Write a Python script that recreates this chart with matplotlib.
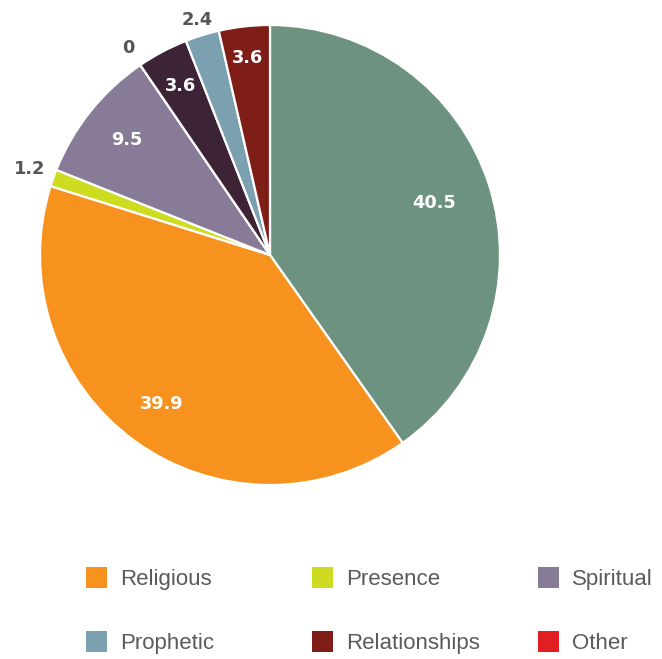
import matplotlib
matplotlib.use("Agg")
import matplotlib.pyplot as plt
from matplotlib.patches import Rectangle
import numpy as np

plt.rcParams['font.family'] = ['Liberation Sans', 'DejaVu Sans']

# slices clockwise from the top
values = [40.5, 39.9, 1.2, 9.5, 0, 3.6, 2.4, 3.6]
value_labels = ["40.5", "39.9", "1.2", "9.5", "0", "3.6", "2.4", "3.6"]
colors = ["#6E9280", "#F7921E", "#CDDC20", "#877B98", "#E01E24",
          "#3D2336", "#7BA0B0", "#7F1D17"]
label_inside = [True, True, False, True, False, True, False, True]
label_radius = [0.75, 0.8, 1.11, 0.8, 1.09, 0.83, 1.07, 0.86]

legend_names = ["Religious", "Presence", "Spiritual",
                "Prophetic", "Relationships", "Other"]
legend_colors = ["#F7921E", "#CDDC20", "#877B98",
                 "#7BA0B0", "#7F1D17", "#E01E24"]

W, H = 662, 659
fig = plt.figure(figsize=(W/100, H/100), dpi=100)
ax = fig.add_axes([40/W, 1-485/H, 460/W, 460/H])
wedges, _ = ax.pie(values, colors=colors, startangle=90, counterclock=False,
                   radius=1, wedgeprops=dict(edgecolor="white", linewidth=1.6))
ax.set_xlim(-1, 1)
ax.set_ylim(-1, 1)
ax.set_aspect("equal")
ax.axis("off")

for w, lab, inside, r in zip(wedges, value_labels, label_inside, label_radius):
    mid = np.deg2rad((w.theta1 + w.theta2) / 2)
    ax.text(r*np.cos(mid), r*np.sin(mid), lab, ha="center", va="center",
            fontsize=12.8, fontweight="bold", family="DejaVu Sans",
            color="white" if inside else "#555555")

# legend, three columns two rows
sq_x = [86, 312, 538]
row_y = [577, 641]
sq = 21
for i, (name, c) in enumerate(zip(legend_names, legend_colors)):
    x = sq_x[i % 3]
    y = row_y[i // 3]
    fig.add_artist(Rectangle((x/W, 1-(y+sq/2)/H), sq/W, sq/H,
                             transform=fig.transFigure, color=c, lw=0))
    fig.text((x+34)/W, 1-(y+8)/H, name, ha="left", va="baseline",
             fontsize=16, color="#5a5a5a")

fig.savefig("out.png", dpi=100)
